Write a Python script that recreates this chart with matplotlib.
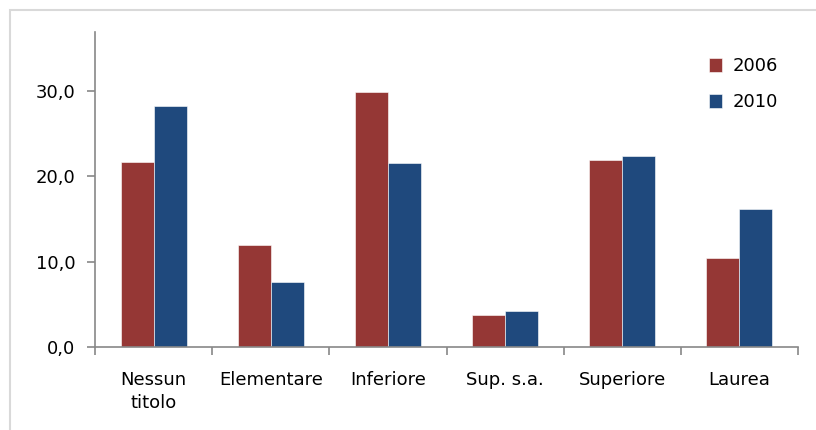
import numpy as np
import matplotlib.pyplot as plt
from matplotlib.patches import Rectangle

categories = ["Nessun\ntitolo", "Elementare", "Inferiore", "Sup. s.a.", "Superiore", "Laurea"]
years = ["2006", "2010"]
values_2006 = [21.7, 11.9, 29.9, 3.7, 21.9, 10.4]
values_2010 = [28.2, 7.6, 21.5, 4.2, 22.4, 16.2]
yticks = [0, 10, 20, 30]

colors = ["#953735", "#1F497D"]
plt.rcParams['font.family'] = ['DejaVu Sans']

fig = plt.figure(figsize=(8.16, 4.30), dpi=100)
ax = fig.add_axes([95 / 816, (430 - 347) / 430, (798 - 95) / 816, (347 - 32) / 430])

# light gray chart frame
fig.add_artist(Rectangle((10 / 816, -0.1), 1.0, 1 - 10 / 430 + 0.1, transform=fig.transFigure,
                         fill=False, edgecolor="#d9d9d9", linewidth=1.5))

x = np.arange(len(categories))
w = 0.282
ax.bar(x - w / 2, values_2006, w, color=colors[0], edgecolor="white", linewidth=0.4, label=years[0])
ax.bar(x + w / 2, values_2010, w, color=colors[1], edgecolor="white", linewidth=0.4, label=years[1])

ax.set_xlim(-0.5, len(categories) - 0.5)
ax.set_ylim(0, 36.9)
ax.set_yticks(yticks)
ax.set_yticklabels([f"{v:.1f}".replace(".", ",") for v in yticks])
ax.set_xticks(x)
ax.set_xticklabels(categories, linespacing=1.35, va="top")
ax.set_xticks(np.arange(len(categories) + 1) - 0.5, minor=True)

for side in ["top", "right"]:
    ax.spines[side].set_visible(False)
for side in ["left", "bottom"]:
    ax.spines[side].set_color("#888888")
    ax.spines[side].set_linewidth(1.2)

ax.tick_params(axis="x", which="major", length=0, pad=17, labelsize=13)
ax.tick_params(axis="x", which="minor", length=6, color="#888888", width=1.2)
ax.tick_params(axis="y", length=6, color="#888888", width=1.2, labelsize=13, pad=8)

ax.legend(loc="upper right", frameon=False, fontsize=13, handlelength=0.7, handleheight=0.85,
          handletextpad=0.6, labelspacing=1.0, bbox_to_anchor=(0.995, 0.972))

fig.savefig("out.png", dpi=100)
